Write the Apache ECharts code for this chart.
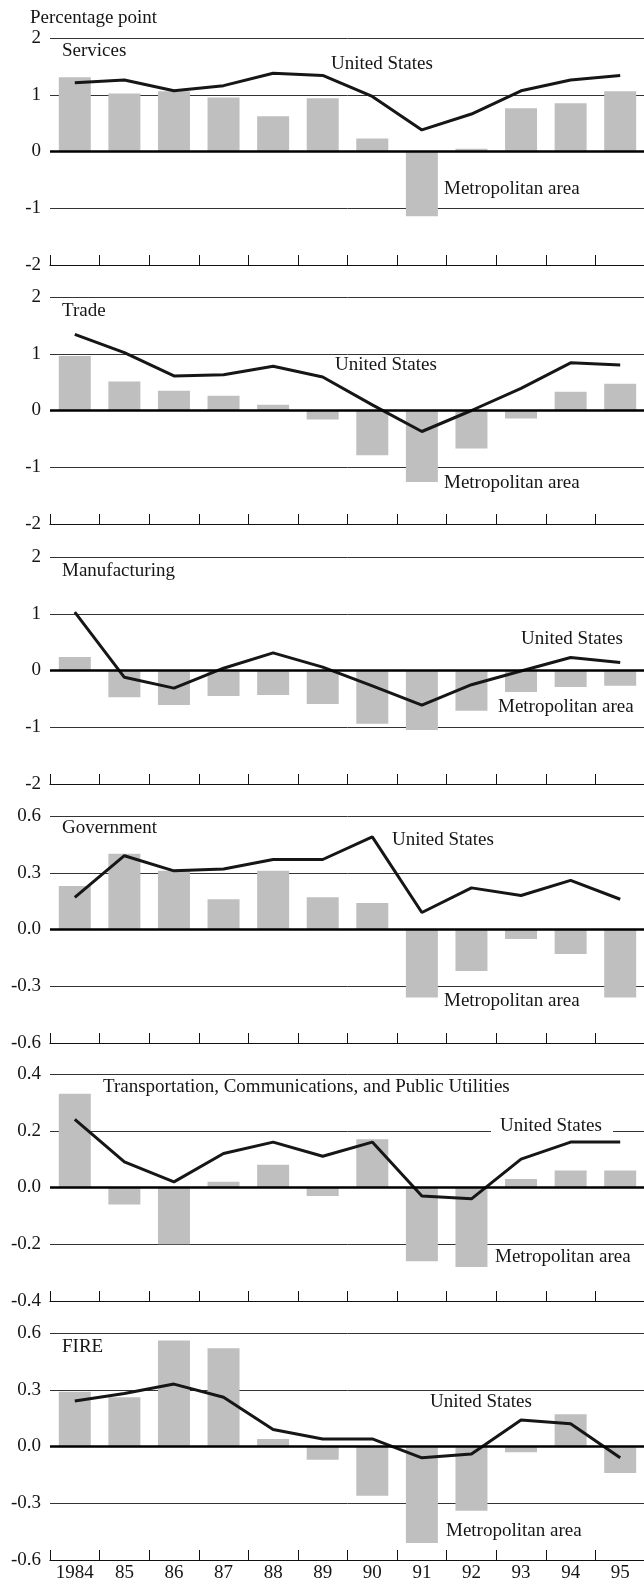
<!DOCTYPE html>
<html>
<head>
<meta charset="utf-8">
<script src="https://cdn.jsdelivr.net/npm/echarts@6/dist/echarts.min.js"></script>
<style>
    html, body { margin: 0; padding: 0; background: #fff; }
    #main { width: 644px; height: 1579px; }
</style>
</head>
<body>
<div id="main"></div>
<script>
// years on the x axis
var years = ['1984', '85', '86', '87', '88', '89', '90', '91', '92', '93', '94', '95'];

// Services
var servicesMetro = [1.31, 1.02, 1.06, 0.95, 0.62, 0.94, 0.23, -1.14, 0.05, 0.76, 0.85, 1.06];
var servicesUS = [1.21, 1.26, 1.07, 1.16, 1.38, 1.34, 0.97, 0.38, 0.66, 1.07, 1.26, 1.34];
// Trade
var tradeMetro = [0.96, 0.51, 0.35, 0.26, 0.10, -0.16, -0.79, -1.26, -0.67, -0.14, 0.33, 0.47];
var tradeUS = [1.34, 1.02, 0.61, 0.63, 0.78, 0.59, 0.10, -0.37, 0.00, 0.39, 0.84, 0.80];
// Manufacturing
var manuMetro = [0.24, -0.47, -0.61, -0.45, -0.43, -0.59, -0.94, -1.05, -0.71, -0.38, -0.29, -0.27];
var manuUS = [1.03, -0.12, -0.31, 0.04, 0.31, 0.06, -0.27, -0.61, -0.25, -0.01, 0.23, 0.14];
// Government
var govMetro = [0.23, 0.40, 0.31, 0.16, 0.31, 0.17, 0.14, -0.36, -0.22, -0.05, -0.13, -0.36];
var govUS = [0.17, 0.39, 0.31, 0.32, 0.37, 0.37, 0.49, 0.09, 0.22, 0.18, 0.26, 0.16];
// Transportation, Communications, and Public Utilities
var tcpuMetro = [0.33, -0.06, -0.20, 0.02, 0.08, -0.03, 0.17, -0.26, -0.28, 0.03, 0.06, 0.06];
var tcpuUS = [0.24, 0.09, 0.02, 0.12, 0.16, 0.11, 0.16, -0.03, -0.04, 0.10, 0.16, 0.16];
// FIRE
var fireMetro = [0.29, 0.26, 0.56, 0.52, 0.04, -0.07, -0.26, -0.51, -0.34, -0.03, 0.17, -0.14];
var fireUS = [0.24, 0.28, 0.33, 0.26, 0.09, 0.04, 0.04, -0.06, -0.04, 0.14, 0.12, -0.06];

// y axis ranges per panel
var yMins = [-2, -2, -2, -0.6, -0.4, -0.6];
var yMaxs = [2, 2, 2, 0.6, 0.4, 0.6];
var yIntervals = [1, 1, 1, 0.3, 0.2, 0.3];
var yDecimals = [0, 0, 0, 1, 1, 1];

var panelNames = ['Services', 'Trade', 'Manufacturing', 'Government',
    'Transportation, Communications, and Public Utilities', 'FIRE'];
var metroData = [servicesMetro, tradeMetro, manuMetro, govMetro, tcpuMetro, fireMetro];
var usData = [servicesUS, tradeUS, manuUS, govUS, tcpuUS, fireUS];

var FONT = '"Liberation Serif", "DejaVu Serif", serif';
var TXT = '#151515';

var chart = echarts.init(document.getElementById('main'), null, {renderer: 'canvas'});

var panelTops = [38, 297, 557, 816, 1074, 1333];
var panelH = 227;

var grids = [], xAxes = [], yAxes = [], series = [];

for (var i = 0; i < 6; i++) {
    grids.push({
        left: 50,
        top: panelTops[i],
        width: 595,
        height: panelH,
        containLabel: false,
        outerBoundsMode: 'none'
    });
    xAxes.push({
        type: 'category',
        gridIndex: i,
        data: years,
        boundaryGap: true,
        axisLine: {
            show: true,
            onZero: false,
            lineStyle: {color: '#111', width: 1.2}
        },
        axisTick: {
            show: true,
            inside: true,
            length: 10,
            interval: 0,
            lineStyle: {color: '#111', width: 1}
        },
        axisLabel: {
            show: i === 5,
            interval: 0,
            margin: 4,
            color: TXT,
            fontFamily: FONT,
            fontSize: 19
        },
        splitLine: {show: false}
    });
    (function (dec) {
        yAxes.push({
            type: 'value',
            gridIndex: i,
            min: yMins[i],
            max: yMaxs[i],
            interval: yIntervals[i],
            axisLine: {show: false},
            axisTick: {show: false},
            axisLabel: {
                margin: 9,
                color: TXT,
                fontFamily: FONT,
                fontSize: 19,
                formatter: function (v) {
                    return dec ? (Math.round(v * 10) / 10).toFixed(1) : String(Math.round(v));
                }
            },
            splitLine: {
                show: true,
                lineStyle: {color: '#333', width: 1}
            }
        });
    })(yDecimals[i]);

    // Metropolitan area bars
    series.push({
        type: 'bar',
        xAxisIndex: i,
        yAxisIndex: i,
        barWidth: 32,
        itemStyle: {color: '#bfbfbf'},
        data: metroData[i]
    });
    // United States line + thick zero line
    series.push({
        type: 'line',
        xAxisIndex: i,
        yAxisIndex: i,
        symbol: 'none',
        lineStyle: {color: '#161616', width: 3},
        data: usData[i],
        markLine: {
            silent: true,
            symbol: ['none', 'none'],
            label: {show: false},
            lineStyle: {color: '#000', width: 2.6, type: 'solid'},
            data: [{yAxis: 0}]
        }
    });
}

// text labels
function txt(x, y, s) {
    return {
        type: 'text',
        left: x,
        top: y - 11,
        z: 100,
        style: {text: s, fill: TXT, font: '19px ' + FONT}
    };
}

var usPos = [[331, 66], [335, 367], [521, 641], [392, 842], [500, 1128], [430, 1404]];
var metroPos = [[444, 191], [444, 485], [498, 709], [444, 1003], [495, 1259], [446, 1533]];
var namePos = [[62, 53], [62, 313], [62, 573], [62, 830], [103, 1089], [62, 1349]];

var graphics = [txt(30, 20, 'Percentage point')];
// white patch behind the US label that sits on a gridline
graphics.push({
    type: 'rect',
    z: 99,
    shape: {x: 491, y: 1117, width: 122, height: 22},
    style: {fill: '#fff'}
});
for (var k = 0; k < 6; k++) {
    graphics.push(txt(namePos[k][0], namePos[k][1], panelNames[k]));
    graphics.push(txt(usPos[k][0], usPos[k][1], 'United States'));
    graphics.push(txt(metroPos[k][0], metroPos[k][1], 'Metropolitan area'));
}

var option = {
    backgroundColor: '#fff',
    animation: false,
    grid: grids,
    xAxis: xAxes,
    yAxis: yAxes,
    series: series,
    graphic: graphics
};

chart.setOption(option);
</script>
</body>
</html>
